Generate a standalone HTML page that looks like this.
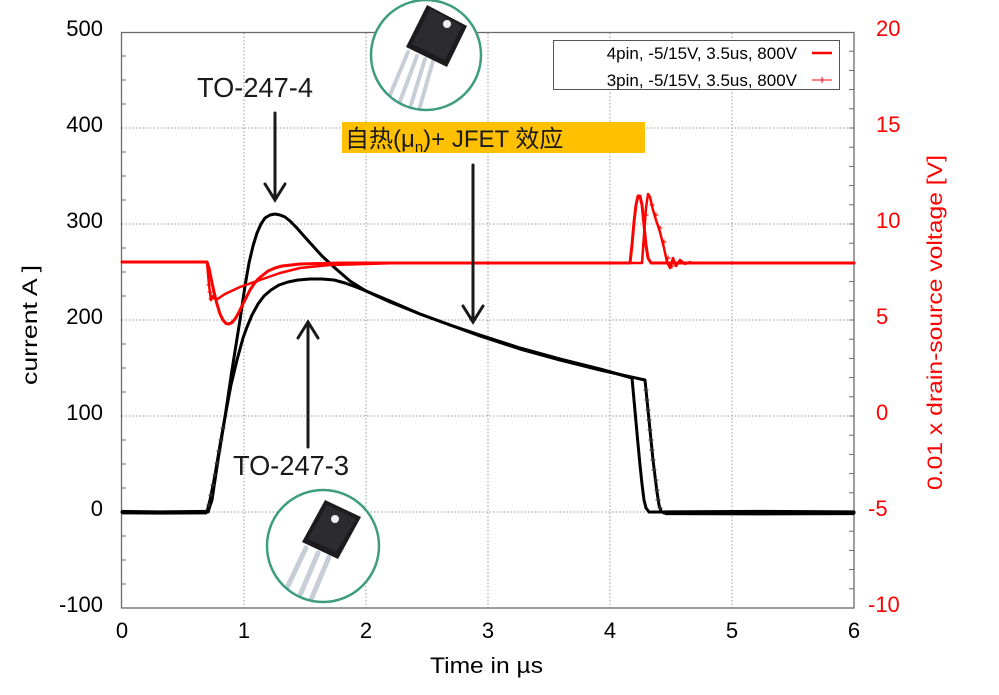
<!DOCTYPE html>
<html><head><meta charset="utf-8"><style>
html,body{margin:0;padding:0;background:#fff;}
svg{display:block;}
text{font-family:"Liberation Sans","Noto Sans CJK SC",sans-serif;}
</style></head><body>
<svg width="999" height="695" viewBox="0 0 999 695" xmlns="http://www.w3.org/2000/svg">
<defs>
<clipPath id="c1"><circle cx="426" cy="55" r="55"/></clipPath>
<clipPath id="c2"><circle cx="323" cy="546" r="56"/></clipPath>
</defs>
<rect width="999" height="695" fill="#fff"/>
<!-- grid -->
<g stroke="#9a9a9a" stroke-width="1" stroke-dasharray="1.5,2" fill="none">
<line x1="244" y1="33" x2="244" y2="608"/>
<line x1="366" y1="33" x2="366" y2="608"/>
<line x1="488" y1="33" x2="488" y2="608"/>
<line x1="610" y1="33" x2="610" y2="608"/>
<line x1="732" y1="33" x2="732" y2="608"/>
<line x1="122" y1="128" x2="854" y2="128"/>
<line x1="122" y1="224" x2="854" y2="224"/>
<line x1="122" y1="320" x2="854" y2="320"/>
<line x1="122" y1="416" x2="854" y2="416"/>
<line x1="122" y1="512" x2="854" y2="512"/>
</g>
<!-- frame -->
<rect x="121.5" y="32.5" width="732.5" height="575.5" fill="none" stroke="#6a6a6a" stroke-width="1.3"/>
<!-- left minor ticks -->
<g stroke="#6a6a6a" stroke-width="1">
<line x1="122" y1="56" x2="126" y2="56"/><line x1="122" y1="80" x2="126" y2="80"/><line x1="122" y1="104" x2="126" y2="104"/>
<line x1="122" y1="152" x2="126" y2="152"/><line x1="122" y1="176" x2="126" y2="176"/><line x1="122" y1="200" x2="126" y2="200"/>
<line x1="122" y1="248" x2="126" y2="248"/><line x1="122" y1="272" x2="126" y2="272"/><line x1="122" y1="296" x2="126" y2="296"/>
<line x1="122" y1="344" x2="126" y2="344"/><line x1="122" y1="368" x2="126" y2="368"/><line x1="122" y1="392" x2="126" y2="392"/>
<line x1="122" y1="440" x2="126" y2="440"/><line x1="122" y1="464" x2="126" y2="464"/><line x1="122" y1="488" x2="126" y2="488"/>
<line x1="122" y1="536" x2="126" y2="536"/><line x1="122" y1="560" x2="126" y2="560"/><line x1="122" y1="584" x2="126" y2="584"/>
</g>
<!-- right minor ticks every 19.2 -->
<g stroke="#6a6a6a" stroke-width="1">
<line x1="849" y1="51.2" x2="854" y2="51.2"/><line x1="849" y1="70.4" x2="854" y2="70.4"/><line x1="849" y1="89.6" x2="854" y2="89.6"/><line x1="849" y1="108.8" x2="854" y2="108.8"/><line x1="849" y1="128" x2="854" y2="128"/>
<line x1="849" y1="147.2" x2="854" y2="147.2"/><line x1="849" y1="166.4" x2="854" y2="166.4"/><line x1="849" y1="185.6" x2="854" y2="185.6"/><line x1="849" y1="204.8" x2="854" y2="204.8"/><line x1="849" y1="224" x2="854" y2="224"/>
<line x1="849" y1="243.2" x2="854" y2="243.2"/><line x1="849" y1="262.4" x2="854" y2="262.4"/><line x1="849" y1="281.6" x2="854" y2="281.6"/><line x1="849" y1="300.8" x2="854" y2="300.8"/><line x1="849" y1="320" x2="854" y2="320"/>
<line x1="849" y1="339.2" x2="854" y2="339.2"/><line x1="849" y1="358.4" x2="854" y2="358.4"/><line x1="849" y1="377.6" x2="854" y2="377.6"/><line x1="849" y1="396.8" x2="854" y2="396.8"/><line x1="849" y1="416" x2="854" y2="416"/>
<line x1="849" y1="435.2" x2="854" y2="435.2"/><line x1="849" y1="454.4" x2="854" y2="454.4"/><line x1="849" y1="473.6" x2="854" y2="473.6"/><line x1="849" y1="492.8" x2="854" y2="492.8"/><line x1="849" y1="512" x2="854" y2="512"/>
<line x1="849" y1="531.2" x2="854" y2="531.2"/><line x1="849" y1="550.4" x2="854" y2="550.4"/><line x1="849" y1="569.6" x2="854" y2="569.6"/><line x1="849" y1="588.8" x2="854" y2="588.8"/>
</g>
<!-- black curves -->
<g fill="none" stroke="#000" stroke-linejoin="round" stroke-linecap="round">
<polyline stroke-width="3" points="122,512 207,512 210,500 215,475 220,445 225,417 231,385 237,360 243,338 247,327 252,315 258,304 264,296 271,290 279,285 288,282 298,280 310,279 322,279 334,280 345,283 356,287 366,291 390,301 420,314 450,325 480,336 520,349 560,360 600,370 645,380 647,400 649,420 651,440 653,460 655,476 657,492 659,505 661,511 664,513 854,513"/>
<polyline stroke-width="3" points="122,512 208,512 212,500 218,460 225,417 232,370 240,320 245,286 249,263 253,246 257,233 261,224 265,218 270,215 275,214 280,215 285,217 290,221 296,227 303,235 312,245 322,256 335,268 350,281 366,291 390,302 420,314 450,325 480,335 520,348 560,359 600,369 632,378 634,400 636,422 638,444 640,465 642,484 644,500 646,508 649,512 854,512"/>
</g>
<!-- noise band -->
<g stroke="#000" stroke-width="1.2" fill="none">
<polyline points="122,510.5 160,511 207,510.5"/>
<polyline points="665,511 760,510.5 854,511"/>
<polyline points="665,514.5 760,514.8 854,514.5"/>
<polyline points="122,513.8 160,514 207,513.8"/>
</g>
<!-- + markers black 3pin -->
<g stroke="#333" stroke-width="1">
<path d="M206.5,505h5M209,502.5v5M208.5,495h5M211,492.5v5M210.5,485h5M213,482.5v5M212.5,475h5M215,472.5v5M214.5,463h5M217,460.5v5M216.5,451h5M219,448.5v5M218.5,440h5M221,437.5v5M220.5,428h5M223,425.5v5"/>
<path d="M643.5,390h5M646,387.5v5M644.5,400h5M647,397.5v5M645.5,410h5M648,407.5v5M646.5,420h5M649,417.5v5M647.5,430h5M650,427.5v5M648.5,440h5M651,437.5v5M649.5,450h5M652,447.5v5M650.5,460h5M653,457.5v5M651.5,470h5M654,467.5v5M653.5,480h5M656,477.5v5M654.5,490h5M657,487.5v5M655.5,500h5M658,497.5v5M657.5,508h5M660,505.5v5"/>
</g>
<!-- red curves -->
<g fill="none" stroke="#ff0000" stroke-linejoin="round" stroke-linecap="round">
<polyline stroke-width="3" points="122,262 207,262 209,268 211,278 214,292 217,304 220,314 223,320 226,323.5 229,324 232,322.5 235,319 238,314 242,306 246,298 250,290 254,284 258,279 263,275 268,271 275,268 282,266 300,264 340,263 630,263 632,245 634,222 636,205 638,196 640,196 642,205 644,225 646,245 648,258 651,263 854,263"/>
<polyline stroke-width="2.5" points="207,262 209,285 211,300 213,296 216,300 225,294 240,287 260,280 280,273 300,268 330,265 366,264 400,263 642,263 644,235 646,208 648,194 650,197 653,210 656,220 660,232 664,248 667,262 670,268 673,258 676,266 680,260 685,264 690,262"/>
</g>
<g stroke="#ff0000" stroke-width="1">
<path d="M206.5,285h5M209,282.5v5M207.5,292h5M210,289.5v5M208.5,299h5M211,296.5v5M643.5,215h5M646,212.5v5M649.5,205h5M652,202.5v5M653.5,215h5M656,212.5v5M657.5,228h5M660,225.5v5M661.5,242h5M664,239.5v5M665.5,258h5M668,255.5v5M669.5,266h5M672,263.5v5"/>
</g>
<!-- legend -->
<rect x="553.5" y="40.5" width="286" height="49" fill="#fff" stroke="#555" stroke-width="1"/>
<text x="797" y="59" font-size="17" text-anchor="end" fill="#000">4pin, -5/15V, 3.5us, 800V</text>
<text x="797" y="86" font-size="17" text-anchor="end" fill="#000">3pin, -5/15V, 3.5us, 800V</text>
<line x1="812" y1="53" x2="832" y2="53" stroke="#ff0000" stroke-width="2.5"/>
<line x1="812" y1="80" x2="832" y2="80" stroke="#ff0000" stroke-width="1"/>
<path d="M819,80h6M822,77v6" stroke="#ff0000" stroke-width="1"/>
<!-- left tick labels -->
<g font-size="22" text-anchor="end" fill="#000">
<text x="103" y="36">500</text>
<text x="103" y="132">400</text>
<text x="103" y="228">300</text>
<text x="103" y="324">200</text>
<text x="103" y="420">100</text>
<text x="103" y="516">0</text>
<text x="103" y="612">-100</text>
</g>
<!-- right tick labels -->
<g font-size="22" fill="#ff0000">
<text x="876" y="36">20</text>
<text x="876" y="132">15</text>
<text x="876" y="228">10</text>
<text x="876" y="324">5</text>
<text x="876" y="420">0</text>
<text x="868" y="516">-5</text>
<text x="868" y="612">-10</text>
</g>
<!-- bottom labels -->
<g font-size="22" text-anchor="middle" fill="#000">
<text x="122" y="638">0</text>
<text x="244" y="638">1</text>
<text x="366" y="638">2</text>
<text x="488" y="638">3</text>
<text x="610" y="638">4</text>
<text x="732" y="638">5</text>
<text x="854" y="638">6</text>
</g>
<text x="430" y="673" font-size="22" textLength="113" lengthAdjust="spacingAndGlyphs" fill="#000">Time in µs</text>
<text transform="translate(37,385) rotate(-90)" font-size="21" textLength="120" lengthAdjust="spacingAndGlyphs" fill="#000">current A ]</text>
<text transform="translate(942,490) rotate(-90)" font-size="21" textLength="335" lengthAdjust="spacingAndGlyphs" fill="#ff0000">0.01 x drain-source voltage [V]</text>
<!-- orange box -->
<rect x="342" y="122" width="303" height="31" fill="#ffc000"/>
<text x="345" y="147" font-size="24" fill="#1a1a1a" font-family="'Liberation Sans','Noto Sans CJK SC',sans-serif">自热(μ<tspan font-size="15" dy="5">n</tspan><tspan dy="-5">)+ JFET 效应</tspan></text>
<!-- annotations -->
<text x="197" y="97" font-size="28" textLength="116" lengthAdjust="spacingAndGlyphs" fill="#1a1a1a">TO-247-4</text>
<text x="233" y="475" font-size="28" textLength="116" lengthAdjust="spacingAndGlyphs" fill="#1a1a1a">TO-247-3</text>
<g stroke="#1a1a1a" stroke-width="3" fill="none" stroke-linecap="round" stroke-linejoin="miter">
<line x1="275" y1="113" x2="275" y2="199"/>
<path d="M265,184 L275,200 L285,184"/>
<line x1="308" y1="447" x2="308" y2="323"/>
<path d="M298,338 L308,322 L318,338"/>
<line x1="473" y1="165" x2="473" y2="321"/>
<path d="M463,306 L473,322 L483,306"/>
</g>
<!-- top circle TO-247-4 -->
<circle cx="426" cy="55" r="55" fill="#fff"/>
<g clip-path="url(#c1)">
<g stroke="#c8ced8" stroke-width="4" stroke-linecap="round">
<line x1="408" y1="52" x2="390" y2="95"/>
<line x1="417" y1="56" x2="399" y2="104"/>
<line x1="425" y1="59" x2="410" y2="108"/>
<line x1="433" y1="61" x2="419" y2="110"/>
</g>
<polygon points="427,5 467,26 447,67 406,47" fill="#1c1c1e"/>
<polygon points="430,9 462,26 445,60 412,44" fill="#2c2c30"/>
<circle cx="447" cy="24" r="4" fill="#eee"/>
</g>
<circle cx="426" cy="55" r="55" fill="none" stroke="#3e9c7f" stroke-width="2.5"/>
<!-- bottom circle TO-247-3 -->
<circle cx="323" cy="546" r="56" fill="#fff"/>
<g clip-path="url(#c2)">
<g stroke="#c8ced8" stroke-width="5" stroke-linecap="round">
<line x1="306" y1="548" x2="285" y2="592"/>
<line x1="318" y1="553" x2="298" y2="600"/>
<line x1="329" y1="557" x2="311" y2="600"/>
</g>
<polygon points="325,500 361,517 338,559 302,542" fill="#1c1c1e"/>
<polygon points="327,505 356,519 336,552 308,539" fill="#2c2c30"/>
<circle cx="335" cy="519" r="4" fill="#eee"/>
</g>
<circle cx="323" cy="546" r="56" fill="none" stroke="#3e9c7f" stroke-width="2.5"/>
</svg>
</body></html>
